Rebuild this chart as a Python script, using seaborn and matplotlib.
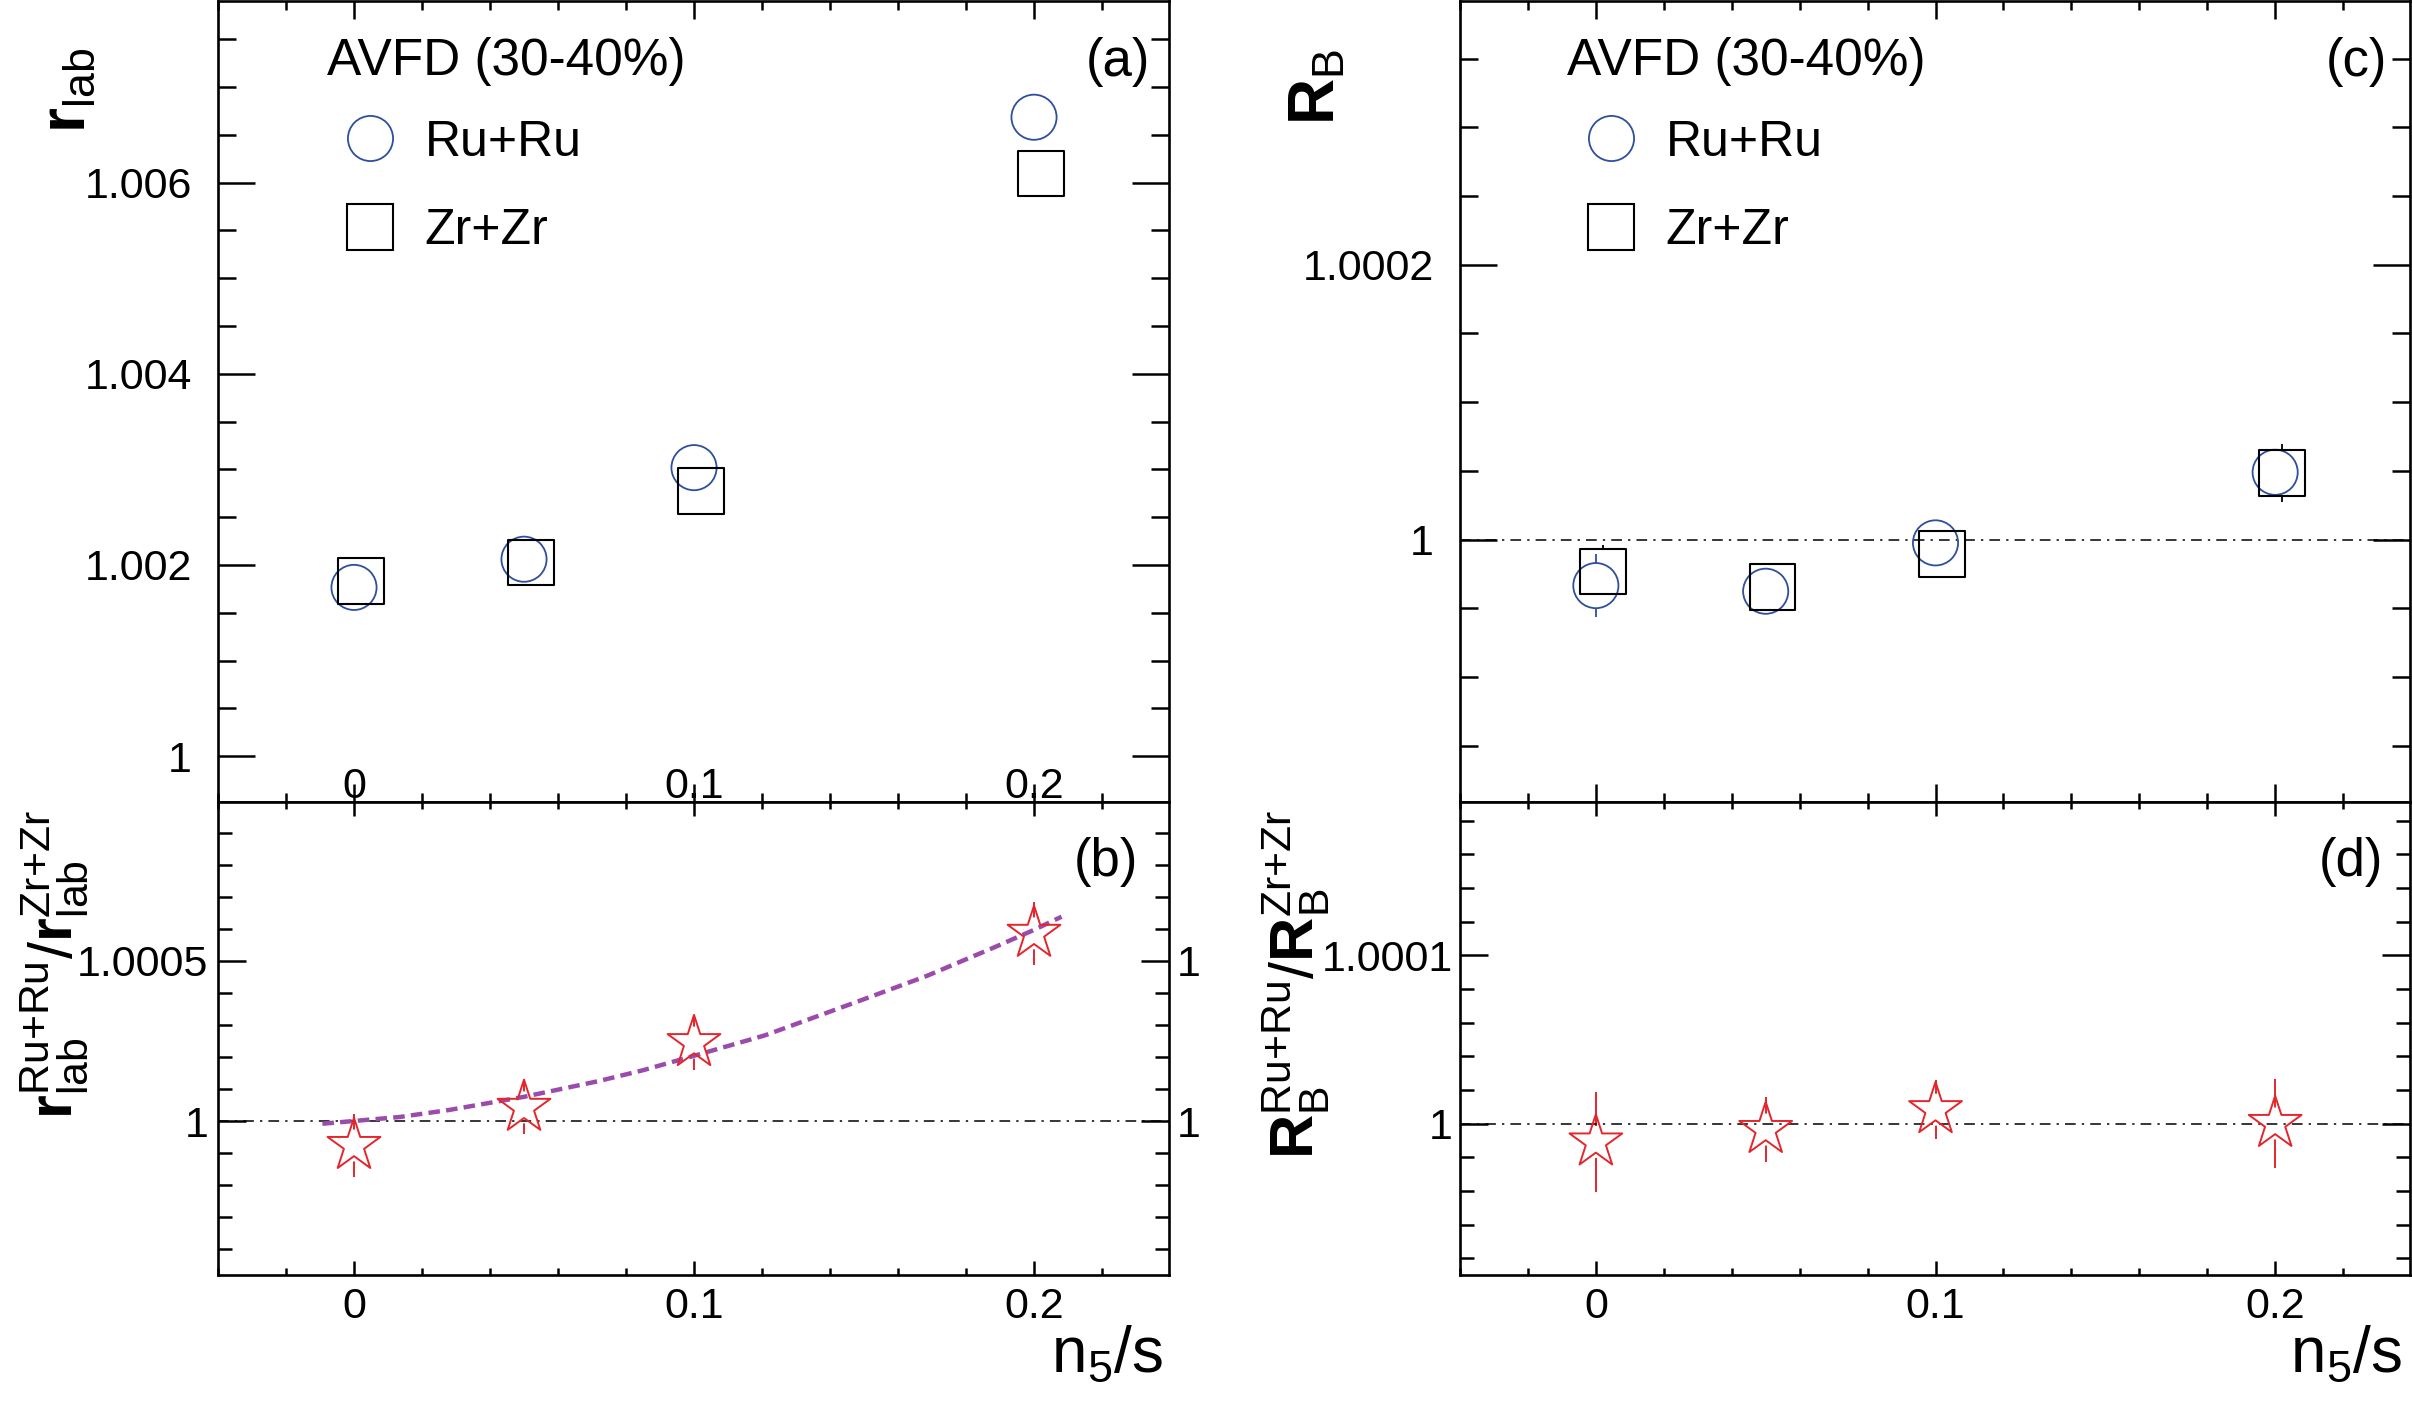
import numpy as np
import matplotlib
matplotlib.use("Agg")
import matplotlib.pyplot as plt
from matplotlib import ticker
from matplotlib.lines import Line2D
import seaborn as sns

# ---- data ----
x_n5s = [0.0, 0.05, 0.1, 0.2]

# (a) r_lab
r_lab_ru = [1.001765, 1.00206, 1.003018, 1.006684]
r_lab_zr = [1.00183, 1.002026, 1.002778, 1.006095]

# (b) r_lab ratio Ru/Zr
ratio_r = [0.999924, 1.000043, 1.000245, 1.000586]
ratio_r_err = [0.000099, 0.000082, 0.000086, 0.000099]

# (b) fitted curve
fit_x = [-0.0093, 0.0134, 0.028, 0.05, 0.0719, 0.085, 0.1, 0.1209,
         0.1488, 0.1684, 0.188, 0.1998, 0.2081]
fit_y = [0.999992, 1.000013, 1.000035, 1.000076, 1.000125, 1.000159,
         1.000204, 1.000268, 1.000376, 1.000453, 1.000541, 1.000596,
         1.000638]

# (c) R_B
rb_ru = [0.9999665, 0.9999624, 0.9999976, 1.000049]
rb_ru_err = [0.000023, 0.000012, 0.000012, 0.000015]
rb_zr = [0.9999768, 0.9999655, 0.9999896, 1.0000485]
rb_zr_err = [0.000019, 0.000012, 0.000012, 0.000021]

# (d) R_B ratio Ru/Zr
ratio_rb = [0.999989, 0.9999964, 1.0000082, 1.0]
ratio_rb_err = [0.0000295, 0.0000193, 0.0000175, 0.0000265]

legend_title = "AVFD (30-40%)"
labels_sys = ["Ru+Ru", "Zr+Zr"]

# ---- style ----
sns.set_theme(style="ticks")
plt.rcParams["font.family"] = ["Liberation Sans", "DejaVu Sans"]
plt.rcParams["mathtext.fontset"] = "custom"
plt.rcParams["mathtext.rm"] = "Liberation Sans"
plt.rcParams["mathtext.bf"] = "Liberation Sans:bold"
plt.rcParams["mathtext.it"] = "Liberation Sans:italic"
for k in ["text.color", "axes.labelcolor", "xtick.color", "ytick.color", "axes.edgecolor"]:
    plt.rcParams[k] = "black"

blue = "#2E4E9E"
red = "#E3262C"
purple = "#9B4BAA"
dx = 0.002  # small horizontal shift of the Zr+Zr squares
ms_c, ms_s, ms_star = 32.5, 33, 40
dashdot = (0, (7, 4, 1.5, 4))

W, H = 2412, 1408
fig = plt.figure(figsize=(W / 100, H / 100), dpi=100)


def px_axes(l, t, r, b):
    return fig.add_axes([l / W, 1 - b / H, (r - l) / W, (b - t) / H])


ax_a = px_axes(218, 1, 1169, 802)
ax_b = px_axes(218, 802, 1169, 1275)
ax_c = px_axes(1460, 1, 2410, 802)
ax_d = px_axes(1460, 802, 2410, 1275)

fmt = ticker.FuncFormatter(lambda v, p: f"{round(v, 7) + 0.0:g}")


def style(ax, ylim, ymaj, ymin, ylen, xlen, ypad):
    ax.set_xlim(-0.04, 0.2397)
    ax.set_ylim(*ylim)
    ax.xaxis.set_major_locator(ticker.MultipleLocator(0.1))
    ax.xaxis.set_minor_locator(ticker.MultipleLocator(0.02))
    ax.yaxis.set_major_locator(ticker.MultipleLocator(ymaj))
    ax.yaxis.set_minor_locator(ticker.MultipleLocator(ymin))
    ax.xaxis.set_major_formatter(fmt)
    ax.yaxis.set_major_formatter(fmt)
    ax.tick_params(which="both", direction="in", top=True, right=True,
                   width=1.8, colors="black", labelsize=31)
    ax.tick_params(axis="y", which="major", length=ylen, pad=ypad)
    ax.tick_params(axis="y", which="minor", length=ylen / 2)
    ax.tick_params(axis="x", which="major", length=xlen)
    ax.tick_params(axis="x", which="minor", length=xlen / 2)
    for s in ax.spines.values():
        s.set_linewidth(1.9)
        s.set_color("black")


style(ax_a, (0.99952, 1.0079), 0.002, 0.0005, 26.6, 13, 18.7)
style(ax_b, (0.99952, 1.000996), 0.0005, 0.0001, 20, 10, 7)
style(ax_c, (0.999809, 1.000392), 0.0002, 0.00005, 26.6, 13, 18.7)
style(ax_d, (0.99991, 1.000191), 0.0001, 0.00002, 20, 10, 5)

# x tick labels of (a) sit inside the frame, (c) has none
ax_a.tick_params(axis="x", which="major", pad=-25.5)
ax_c.tick_params(axis="x", labelbottom=False)
ax_b.tick_params(axis="x", which="major", pad=9)
ax_d.tick_params(axis="x", which="major", pad=9)


def open_points(ax, x, y, marker, size, color, lw, z):
    sns.scatterplot(x=x, y=y, ax=ax, marker=marker, s=size ** 2,
                    facecolor="none", edgecolor=color, linewidth=lw, zorder=z)


def blank_points(ax, x, y, marker, size, z):
    # white patch so the error bar is not drawn across the marker
    sns.scatterplot(x=x, y=y, ax=ax, marker=marker, s=size ** 2,
                    facecolor="white", edgecolor="none", linewidth=0, zorder=z)


# ---- (a) ----
open_points(ax_a, x_n5s, r_lab_ru, "o", ms_c, blue, 1.3, 3)
open_points(ax_a, np.add(x_n5s, dx), r_lab_zr, "s", ms_s, "black", 1.5, 3)

# ---- (b) ----
ax_b.errorbar(x_n5s, ratio_r, yerr=ratio_r_err, fmt="none", ecolor=red,
              elinewidth=1.4, capsize=0, zorder=2)
blank_points(ax_b, x_n5s, ratio_r, "o", 23, 2.2)
ax_b.axhline(1.0, color="black", lw=1.1, ls=dashdot, zorder=2.4)
sns.lineplot(x=fit_x, y=fit_y, ax=ax_b, color=purple, lw=3.2,
             linestyle=(0, (2.6, 1.4)), zorder=2.6)
open_points(ax_b, x_n5s, ratio_r, "*", ms_star, red, 1.4, 4)

# ---- (c) ----
ax_c.errorbar(np.add(x_n5s, dx), rb_zr, yerr=rb_zr_err, fmt="none",
              ecolor="black", elinewidth=1.3, capsize=0, zorder=2)
blank_points(ax_c, np.add(x_n5s, dx), rb_zr, "s", ms_s, 2.1)
ax_c.errorbar(x_n5s, rb_ru, yerr=rb_ru_err, fmt="none", ecolor=blue,
              elinewidth=1.3, capsize=0, zorder=2.2)
blank_points(ax_c, x_n5s, rb_ru, "o", ms_c, 2.3)
ax_c.axhline(1.0, color="black", lw=1.1, ls=dashdot, zorder=2.5)
open_points(ax_c, x_n5s, rb_ru, "o", ms_c, blue, 1.3, 3)
open_points(ax_c, np.add(x_n5s, dx), rb_zr, "s", ms_s, "black", 1.5, 3)

# ---- (d) ----
ax_d.errorbar(x_n5s, ratio_rb, yerr=ratio_rb_err, fmt="none", ecolor=red,
              elinewidth=1.4, capsize=0, zorder=2)
blank_points(ax_d, x_n5s, ratio_rb, "o", 23, 2.2)
ax_d.axhline(1.0, color="black", lw=1.1, ls=dashdot, zorder=2.4)
open_points(ax_d, x_n5s, ratio_rb, "*", ms_star, red, 1.4, 4)

# ---- legends ----
handles = [
    Line2D([], [], ls="none", marker="o", ms=ms_c, mfc="none", mec=blue, mew=1.3),
    Line2D([], [], ls="none", marker="s", ms=ms_s, mfc="none", mec="black", mew=1.5),
]
for ax, tx, lx in [(ax_a, 0.1146, 0.1339), (ax_c, 0.1126, 0.133)]:
    ax.text(tx, 0.924, legend_title, transform=ax.transAxes, ha="left",
            va="center", fontsize=37)
    ax.legend(handles, labels_sys, loc="upper left", bbox_to_anchor=(lx, 0.8516),
              frameon=False, borderpad=0, borderaxespad=0, handlelength=1.0,
              handletextpad=0.59, labelspacing=0.85, fontsize=36, numpoints=1)

# panel letters
for ax, s, x, y in [(ax_a, "(a)", 0.98, 0.924), (ax_b, "(b)", 0.9674, 0.873),
                    (ax_c, "(c)", 0.9758, 0.924), (ax_d, "(d)", 0.9716, 0.873)]:
    ax.text(x, y, s, transform=ax.transAxes, ha="right", va="center", fontsize=38)

# axis titles
ax_a.set_ylabel(r"$\mathbf{r}_{\mathrm{lab}}$", fontsize=46, loc="top")
ax_a.yaxis.set_label_coords(-0.1262, 0.9414)
ax_b.set_ylabel(r"$\mathbf{r}^{\mathrm{Ru{+}Ru}}_{\mathrm{lab}}/\mathbf{r}^{\mathrm{Zr{+}Zr}}_{\mathrm{lab}}$",
                fontsize=44, loc="top")
ax_b.yaxis.set_label_coords(-0.1346, 0.983)
ax_c.set_ylabel(r"$\mathbf{R}_{\mathrm{B}}$", fontsize=46, loc="top")
ax_c.yaxis.set_label_coords(-0.1179, 0.940)
ax_d.set_ylabel(r"$\mathbf{R}^{\mathrm{Ru{+}Ru}}_{\mathrm{B}}/\mathbf{R}^{\mathrm{Zr{+}Zr}}_{\mathrm{B}}$",
                fontsize=44, loc="top")
ax_d.yaxis.set_label_coords(-0.1345, 0.983)

for ax, xr in [(ax_b, 0.9937), (ax_d, 0.9916)]:
    ax.set_xlabel(r"n$_{5}$/s", fontsize=46, loc="right")
    ax.xaxis.set_label_coords(xr, -0.105)

# right-hand labels of (b): only the leading digit shows, the rest is cut
# off by the neighbouring pad
sec = ax_b.secondary_yaxis("right")
sec.yaxis.set_major_locator(ticker.MultipleLocator(0.0005))
sec.yaxis.set_minor_locator(ticker.NullLocator())
sec.yaxis.set_major_formatter(ticker.FuncFormatter(lambda v, p: fmt(v, p)[:1]))
sec.tick_params(axis="y", length=0, pad=5.8, labelsize=31, colors="black")
sec.spines["right"].set_visible(False)

fig.savefig("out.png", dpi=100)
